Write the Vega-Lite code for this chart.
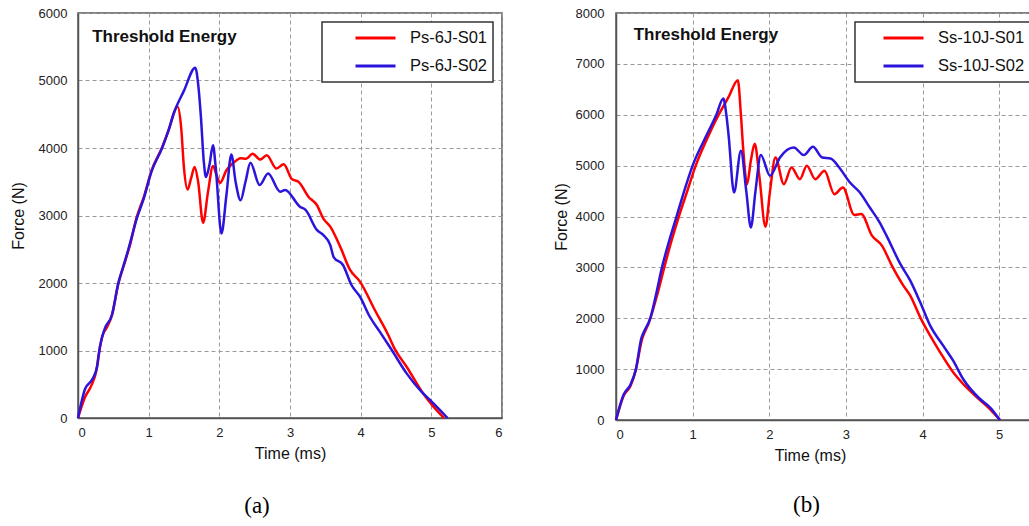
{
  "$schema": "https://vega.github.io/schema/vega-lite/v6.json",
  "padding": {"left": 9, "top": 6, "right": 0, "bottom": 0},
  "bounds": "flush",
  "spacing": 114,
  "background": "white",
  "config": {
    "font": "Liberation Sans",
    "view": {"stroke": "#555", "strokeWidth": 1.5},
    "axis": {
      "grid": true, "gridDash": [4, 3], "gridColor": "#9a9a9a", "gridWidth": 1,
      "domainColor": "#555", "domainWidth": 1.5, "tickSize": 0,
      "labelFont": "Liberation Sans", "labelFontSize": 13, "labelColor": "#222",
      "titleFont": "Liberation Sans", "titleFontSize": 16, "titleFontWeight": "normal", "titleColor": "#111"
    },
    "legend": {
      "orient": "top-right", "offset": 9, "strokeColor": "#333", "strokeWidth": 1.5, "fillColor": "white",
      "padding": 5, "symbolType": "stroke", "symbolStrokeWidth": 3, "symbolSize": 1600, "clipHeight": 22,
      "labelFont": "Liberation Sans", "labelFontSize": 16.5, "labelColor": "#111", "labelOffset": 13,
      "rowPadding": 6, "title": null
    },
    "title": {"font": "Liberation Serif", "fontSize": 23, "fontWeight": "normal", "color": "#000"}
  },
  "datasets": {
    "a": [
      {"s":"Ps-6J-S01","t":0,"f":0},{"s":"Ps-6J-S01","t":0.1,"f":310},{"s":"Ps-6J-S01","t":0.19,"f":483},{"s":"Ps-6J-S01","t":0.26,"f":705},{"s":"Ps-6J-S01","t":0.3,"f":980},{"s":"Ps-6J-S01","t":0.35,"f":1230},{"s":"Ps-6J-S01","t":0.41,"f":1346},{"s":"Ps-6J-S01","t":0.48,"f":1519},{"s":"Ps-6J-S01","t":0.57,"f":1987},{"s":"Ps-6J-S01","t":0.67,"f":2332},{"s":"Ps-6J-S01","t":0.74,"f":2579},{"s":"Ps-6J-S01","t":0.83,"f":2973},{"s":"Ps-6J-S01","t":0.93,"f":3269},{"s":"Ps-6J-S01","t":1.04,"f":3664},{"s":"Ps-6J-S01","t":1.19,"f":4009},{"s":"Ps-6J-S01","t":1.28,"f":4255},{"s":"Ps-6J-S01","t":1.41,"f":4610},{"s":"Ps-6J-S01","t":1.46,"f":4300},{"s":"Ps-6J-S01","t":1.5,"f":3700},{"s":"Ps-6J-S01","t":1.55,"f":3384},{"s":"Ps-6J-S01","t":1.6,"f":3550},{"s":"Ps-6J-S01","t":1.65,"f":3719},{"s":"Ps-6J-S01","t":1.7,"f":3500},{"s":"Ps-6J-S01","t":1.77,"f":2892},{"s":"Ps-6J-S01","t":1.84,"f":3350},{"s":"Ps-6J-S01","t":1.91,"f":3734},{"s":"Ps-6J-S01","t":1.96,"f":3600},{"s":"Ps-6J-S01","t":2.01,"f":3483},{"s":"Ps-6J-S01","t":2.1,"f":3670},{"s":"Ps-6J-S01","t":2.2,"f":3780},{"s":"Ps-6J-S01","t":2.3,"f":3850},{"s":"Ps-6J-S01","t":2.38,"f":3840},{"s":"Ps-6J-S01","t":2.47,"f":3916},{"s":"Ps-6J-S01","t":2.58,"f":3828},{"s":"Ps-6J-S01","t":2.67,"f":3892},{"s":"Ps-6J-S01","t":2.81,"f":3695},{"s":"Ps-6J-S01","t":2.91,"f":3759},{"s":"Ps-6J-S01","t":3.03,"f":3536},{"s":"Ps-6J-S01","t":3.12,"f":3501},{"s":"Ps-6J-S01","t":3.26,"f":3279},{"s":"Ps-6J-S01","t":3.38,"f":3156},{"s":"Ps-6J-S01","t":3.47,"f":2958},{"s":"Ps-6J-S01","t":3.57,"f":2835},{"s":"Ps-6J-S01","t":3.71,"f":2539},{"s":"Ps-6J-S01","t":3.85,"f":2193},{"s":"Ps-6J-S01","t":3.99,"f":2020},{"s":"Ps-6J-S01","t":4.2,"f":1600},{"s":"Ps-6J-S01","t":4.39,"f":1230},{"s":"Ps-6J-S01","t":4.49,"f":1008},{"s":"Ps-6J-S01","t":4.65,"f":760},{"s":"Ps-6J-S01","t":4.88,"f":370},{"s":"Ps-6J-S01","t":5.03,"f":168},{"s":"Ps-6J-S01","t":5.18,"f":0},
      {"s":"Ps-6J-S02","t":0,"f":0},{"s":"Ps-6J-S02","t":0.1,"f":430},{"s":"Ps-6J-S02","t":0.2,"f":570},{"s":"Ps-6J-S02","t":0.27,"f":760},{"s":"Ps-6J-S02","t":0.31,"f":1057},{"s":"Ps-6J-S02","t":0.38,"f":1328},{"s":"Ps-6J-S02","t":0.48,"f":1526},{"s":"Ps-6J-S02","t":0.57,"f":1995},{"s":"Ps-6J-S02","t":0.64,"f":2242},{"s":"Ps-6J-S02","t":0.71,"f":2489},{"s":"Ps-6J-S02","t":0.83,"f":2950},{"s":"Ps-6J-S02","t":0.93,"f":3250},{"s":"Ps-6J-S02","t":1.04,"f":3650},{"s":"Ps-6J-S02","t":1.19,"f":4000},{"s":"Ps-6J-S02","t":1.28,"f":4260},{"s":"Ps-6J-S02","t":1.35,"f":4500},{"s":"Ps-6J-S02","t":1.5,"f":4850},{"s":"Ps-6J-S02","t":1.66,"f":5190},{"s":"Ps-6J-S02","t":1.7,"f":4950},{"s":"Ps-6J-S02","t":1.74,"f":4450},{"s":"Ps-6J-S02","t":1.78,"f":3800},{"s":"Ps-6J-S02","t":1.81,"f":3571},{"s":"Ps-6J-S02","t":1.86,"f":3750},{"s":"Ps-6J-S02","t":1.91,"f":4039},{"s":"Ps-6J-S02","t":1.95,"f":3700},{"s":"Ps-6J-S02","t":2.03,"f":2734},{"s":"Ps-6J-S02","t":2.1,"f":3300},{"s":"Ps-6J-S02","t":2.17,"f":3905},{"s":"Ps-6J-S02","t":2.23,"f":3500},{"s":"Ps-6J-S02","t":2.3,"f":3227},{"s":"Ps-6J-S02","t":2.37,"f":3500},{"s":"Ps-6J-S02","t":2.44,"f":3781},{"s":"Ps-6J-S02","t":2.57,"f":3452},{"s":"Ps-6J-S02","t":2.69,"f":3624},{"s":"Ps-6J-S02","t":2.86,"f":3353},{"s":"Ps-6J-S02","t":2.93,"f":3378},{"s":"Ps-6J-S02","t":3.14,"f":3131},{"s":"Ps-6J-S02","t":3.22,"f":3082},{"s":"Ps-6J-S02","t":3.38,"f":2786},{"s":"Ps-6J-S02","t":3.47,"f":2712},{"s":"Ps-6J-S02","t":3.57,"f":2560},{"s":"Ps-6J-S02","t":3.62,"f":2380},{"s":"Ps-6J-S02","t":3.75,"f":2267},{"s":"Ps-6J-S02","t":3.87,"f":1970},{"s":"Ps-6J-S02","t":3.99,"f":1797},{"s":"Ps-6J-S02","t":4.13,"f":1500},{"s":"Ps-6J-S02","t":4.27,"f":1279},{"s":"Ps-6J-S02","t":4.44,"f":1007},{"s":"Ps-6J-S02","t":4.65,"f":661},{"s":"Ps-6J-S02","t":4.86,"f":390},{"s":"Ps-6J-S02","t":4.98,"f":267},{"s":"Ps-6J-S02","t":5.23,"f":0}
    ],
    "b": [
      {"s":"Ss-10J-S01","t":0,"f":0},{"s":"Ss-10J-S01","t":0.1,"f":477},{"s":"Ss-10J-S01","t":0.19,"f":673},{"s":"Ss-10J-S01","t":0.25,"f":935},{"s":"Ss-10J-S01","t":0.34,"f":1588},{"s":"Ss-10J-S01","t":0.43,"f":1915},{"s":"Ss-10J-S01","t":0.54,"f":2471},{"s":"Ss-10J-S01","t":0.63,"f":3000},{"s":"Ss-10J-S01","t":0.72,"f":3500},{"s":"Ss-10J-S01","t":0.82,"f":4000},{"s":"Ss-10J-S01","t":0.93,"f":4500},{"s":"Ss-10J-S01","t":1.04,"f":5000},{"s":"Ss-10J-S01","t":1.18,"f":5500},{"s":"Ss-10J-S01","t":1.34,"f":6000},{"s":"Ss-10J-S01","t":1.47,"f":6350},{"s":"Ss-10J-S01","t":1.59,"f":6680},{"s":"Ss-10J-S01","t":1.63,"f":6000},{"s":"Ss-10J-S01","t":1.66,"f":5325},{"s":"Ss-10J-S01","t":1.71,"f":4636},{"s":"Ss-10J-S01","t":1.76,"f":5100},{"s":"Ss-10J-S01","t":1.81,"f":5430},{"s":"Ss-10J-S01","t":1.87,"f":4800},{"s":"Ss-10J-S01","t":1.95,"f":3800},{"s":"Ss-10J-S01","t":2.01,"f":4500},{"s":"Ss-10J-S01","t":2.08,"f":5161},{"s":"Ss-10J-S01","t":2.19,"f":4636},{"s":"Ss-10J-S01","t":2.29,"f":4964},{"s":"Ss-10J-S01","t":2.4,"f":4734},{"s":"Ss-10J-S01","t":2.49,"f":5000},{"s":"Ss-10J-S01","t":2.6,"f":4734},{"s":"Ss-10J-S01","t":2.72,"f":4898},{"s":"Ss-10J-S01","t":2.85,"f":4439},{"s":"Ss-10J-S01","t":2.96,"f":4570},{"s":"Ss-10J-S01","t":3.11,"f":4030},{"s":"Ss-10J-S01","t":3.2,"f":4050},{"s":"Ss-10J-S01","t":3.34,"f":3624},{"s":"Ss-10J-S01","t":3.47,"f":3427},{"s":"Ss-10J-S01","t":3.6,"f":3034},{"s":"Ss-10J-S01","t":3.75,"f":2641},{"s":"Ss-10J-S01","t":3.84,"f":2444},{"s":"Ss-10J-S01","t":3.97,"f":2018},{"s":"Ss-10J-S01","t":4.1,"f":1658},{"s":"Ss-10J-S01","t":4.23,"f":1330},{"s":"Ss-10J-S01","t":4.4,"f":937},{"s":"Ss-10J-S01","t":4.53,"f":708},{"s":"Ss-10J-S01","t":4.71,"f":446},{"s":"Ss-10J-S01","t":4.88,"f":216},{"s":"Ss-10J-S01","t":5.01,"f":0},
      {"s":"Ss-10J-S02","t":0,"f":0},{"s":"Ss-10J-S02","t":0.1,"f":500},{"s":"Ss-10J-S02","t":0.19,"f":700},{"s":"Ss-10J-S02","t":0.26,"f":1000},{"s":"Ss-10J-S02","t":0.33,"f":1600},{"s":"Ss-10J-S02","t":0.36,"f":1719},{"s":"Ss-10J-S02","t":0.45,"f":2013},{"s":"Ss-10J-S02","t":0.52,"f":2450},{"s":"Ss-10J-S02","t":0.6,"f":3000},{"s":"Ss-10J-S02","t":0.69,"f":3500},{"s":"Ss-10J-S02","t":0.79,"f":4000},{"s":"Ss-10J-S02","t":0.89,"f":4500},{"s":"Ss-10J-S02","t":1.0,"f":5000},{"s":"Ss-10J-S02","t":1.15,"f":5500},{"s":"Ss-10J-S02","t":1.31,"f":6000},{"s":"Ss-10J-S02","t":1.4,"f":6321},{"s":"Ss-10J-S02","t":1.44,"f":6000},{"s":"Ss-10J-S02","t":1.47,"f":5587},{"s":"Ss-10J-S02","t":1.54,"f":4472},{"s":"Ss-10J-S02","t":1.63,"f":5292},{"s":"Ss-10J-S02","t":1.7,"f":4500},{"s":"Ss-10J-S02","t":1.76,"f":3784},{"s":"Ss-10J-S02","t":1.82,"f":4500},{"s":"Ss-10J-S02","t":1.89,"f":5207},{"s":"Ss-10J-S02","t":2.01,"f":4800},{"s":"Ss-10J-S02","t":2.14,"f":5161},{"s":"Ss-10J-S02","t":2.32,"f":5357},{"s":"Ss-10J-S02","t":2.45,"f":5207},{"s":"Ss-10J-S02","t":2.57,"f":5370},{"s":"Ss-10J-S02","t":2.69,"f":5161},{"s":"Ss-10J-S02","t":2.8,"f":5141},{"s":"Ss-10J-S02","t":2.92,"f":4948},{"s":"Ss-10J-S02","t":3.05,"f":4672},{"s":"Ss-10J-S02","t":3.18,"f":4476},{"s":"Ss-10J-S02","t":3.31,"f":4181},{"s":"Ss-10J-S02","t":3.44,"f":3886},{"s":"Ss-10J-S02","t":3.53,"f":3624},{"s":"Ss-10J-S02","t":3.71,"f":3067},{"s":"Ss-10J-S02","t":3.84,"f":2739},{"s":"Ss-10J-S02","t":3.97,"f":2313},{"s":"Ss-10J-S02","t":4.1,"f":1855},{"s":"Ss-10J-S02","t":4.27,"f":1461},{"s":"Ss-10J-S02","t":4.4,"f":1166},{"s":"Ss-10J-S02","t":4.53,"f":806},{"s":"Ss-10J-S02","t":4.75,"f":413},{"s":"Ss-10J-S02","t":4.88,"f":249},{"s":"Ss-10J-S02","t":5.01,"f":0}
    ]
  },
  "hconcat": [
    {
      "width": 424, "height": 405,
      "title": {"text": "(a)", "orient": "bottom", "offset": 34, "anchor": "middle", "dx": -33},
      "layer": [
        {
          "data": {"name": "a"},
          "mark": {"type": "line", "interpolate": "monotone", "strokeWidth": 2.5},
          "encoding": {
            "x": {"field": "t", "type": "quantitative", "scale": {"domain": [0, 6], "nice": false},
                  "axis": {"values": [0, 1, 2, 3, 4, 5, 6], "format": "d", "title": "Time (ms)", "labelPadding": 8, "titlePadding": 6}},
            "y": {"field": "f", "type": "quantitative", "scale": {"domain": [0, 6000], "nice": false},
                  "axis": {"values": [0, 1000, 2000, 3000, 4000, 5000, 6000], "format": "d", "title": "Force (N)", "labelPadding": 11, "titlePadding": 12}},
            "color": {"field": "s", "type": "nominal", "scale": {"domain": ["Ps-6J-S01", "Ps-6J-S02"], "range": ["#ff0000", "#2b14dc"]},
                      "legend": {"title": null, "symbolOffset": 27}}
          }
        },
        {
          "data": {"values": [{}]},
          "mark": {"type": "text", "text": "Threshold Energy", "fontWeight": "bold", "fontSize": 17, "align": "left", "baseline": "middle", "color": "#111"},
          "encoding": {"x": {"datum": 0.2}, "y": {"datum": 5650}}
        }
      ]
    },
    {
      "width": 423, "height": 407,
      "title": {"text": "(b)", "orient": "bottom", "offset": 31, "anchor": "middle", "dx": -21},
      "layer": [
        {
          "data": {"name": "b"},
          "mark": {"type": "line", "interpolate": "monotone", "strokeWidth": 2.5},
          "encoding": {
            "x": {"field": "t", "type": "quantitative", "scale": {"domain": [0, 5.52], "nice": false},
                  "axis": {"values": [0, 1, 2, 3, 4, 5], "format": "d", "title": "Time (ms)", "labelPadding": 8, "titlePadding": 6, "titleX": 194}},
            "y": {"field": "f", "type": "quantitative", "scale": {"domain": [0, 8000], "nice": false},
                  "axis": {"values": [0, 1000, 2000, 3000, 4000, 5000, 6000, 7000, 8000], "format": "d", "title": "Force (N)", "labelPadding": 12, "titlePadding": 6}},
            "color": {"field": "s", "type": "nominal", "scale": {"domain": ["Ss-10J-S01", "Ss-10J-S02"], "range": ["#ff0000", "#2b14dc"]},
                      "legend": {"title": null, "symbolOffset": 22}}
          }
        },
        {
          "data": {"values": [{}]},
          "mark": {"type": "text", "text": "Threshold Energy", "fontWeight": "bold", "fontSize": 17, "align": "left", "baseline": "middle", "color": "#111"},
          "encoding": {"x": {"datum": 0.23}, "y": {"datum": 7560}}
        }
      ]
    }
  ],
  "resolve": {"scale": {"color": "independent", "x": "independent", "y": "independent"}}
}
